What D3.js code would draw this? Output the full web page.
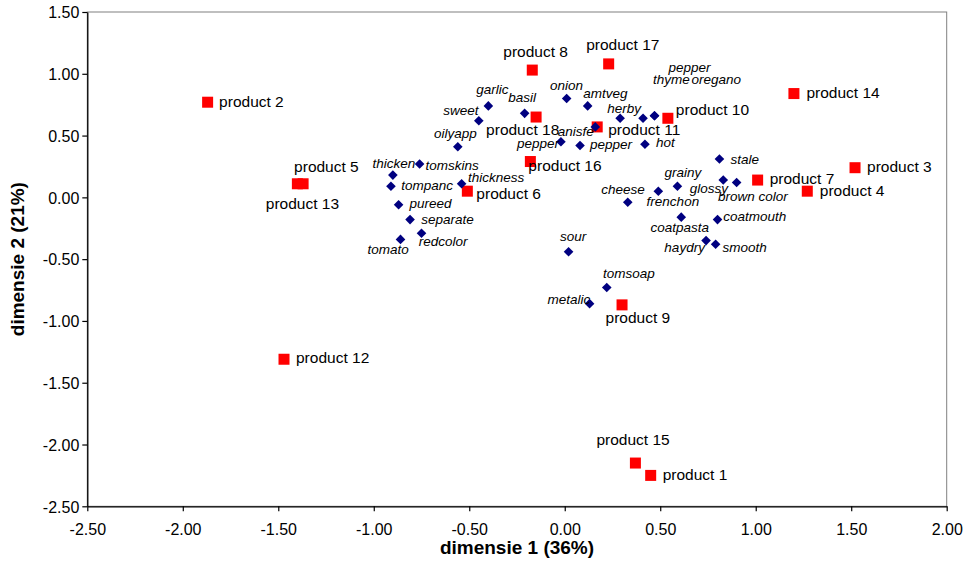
<!DOCTYPE html>
<html>
<head>
<meta charset="utf-8">
<script src="https://cdn.jsdelivr.net/npm/d3@7"></script>
<style>
  html, body { margin: 0; padding: 0; background: #fff; }
  svg { display: block; font-family: "Liberation Sans", Arial, sans-serif; }
</style>
</head>
<body>
<svg id="chart" width="966" height="563"></svg>
<script>
// ---------- data ----------
const productNames = ["product 1","product 2","product 3","product 4","product 5","product 6",
  "product 7","product 8","product 9","product 10","product 11","product 12","product 13",
  "product 14","product 15","product 16","product 17","product 18"];
const productDim1 = [0.45,-1.87,1.52,1.27,-1.37,-0.51,1.01,-0.17,0.30,0.54,0.17,-1.47,-1.40,1.20,0.37,-0.18,0.23,-0.15];
const productDim2 = [-2.25,0.77,0.24,0.05,0.11,0.05,0.14,1.03,-0.87,0.64,0.57,-1.31,0.11,0.84,-2.15,0.29,1.08,0.65];

const attrNames = ["garlic","basil","sweet","oilyapp","pepper","onion","amtveg","herby","thyme","oregano",
  "pepper","anisfe","pepper","hot","stale","grainy","cheese","frenchon","glossy","brown color",
  "coatpasta","coatmouth","haydry","smooth","sour","tomsoap","metalic","thicken","tomskins",
  "tompanc","thickness","pureed","separate","redcolor","tomato"];
const attrDim1 = [-0.40,-0.21,-0.45,-0.56,-0.02,0.01,0.12,0.29,0.41,0.47,
  0.47,0.16,0.08,0.42,0.81,0.59,0.33,0.49,0.83,0.90,
  0.61,0.80,0.74,0.79,0.02,0.22,0.13,-0.90,-0.76,
  -0.91,-0.54,-0.87,-0.81,-0.75,-0.86];
const attrDim2 = [0.74,0.68,0.62,0.41,0.45,0.80,0.74,0.64,0.64,0.66,
  0.66,0.57,0.42,0.43,0.31,0.09,-0.04,0.05,0.14,0.12,
  -0.16,-0.18,-0.35,-0.38,-0.44,-0.73,-0.86,0.18,0.27,
  0.09,0.11,-0.06,-0.18,-0.29,-0.34];

const xTicks = [-2.5,-2,-1.5,-1,-0.5,0,0.5,1,1.5,2];
const xTickLabels = ["-2.50","-2.00","-1.50","-1.00","-0.50","0.00","0.50","1.00","1.50","2.00"];
const yTicks = [-2.5,-2,-1.5,-1,-0.5,0,0.5,1,1.5];
const yTickLabels = ["-2.50","-2.00","-1.50","-1.00","-0.50","0.00","0.50","1.00","1.50"];
const xTitle = "dimensie 1 (36%)";
const yTitle = "dimensie 2 (21%)";

// ---------- label placement (layout only) ----------
const productLabelOffsets = [
  [12,5],[11.5,4.5],[12,4.5],[12.5,4.5],[-9,-12],[9,8],[12,4],[-29,-13],[-16.5,18],
  [8,-3],[11,8.5],[12,4],[-31.6,25],[12.5,4],[-39,-18.5],[-2,9],[-22.5,-14],[-50,18]
];
const attrLabelOffsets = [
  [-12,-12],[-16.5,-11],[-35.5,-6],[-23.7,-8.7],[-44,6.5],[-16.6,-9],[-4.4,-7.7],[-13,-5],[10,-34.3],[37,-32],
  [14,-43.6],[-37.5,9],[10,3.5],[11,3],[11,4.5],[-13,-9],[-26.5,-8.4],[-11.7,15],[-33.4,12.8],[-18.7,18.3],
  [-30.7,15],[5.7,1],[-41.7,11],[7,7.7],[-8.6,-10.3],[-3.7,-10],[-42,0.6],[-20.3,-7],[6,6],
  [10.3,4.2],[6.3,-1.6],[11,3.7],[11.2,4],[-2.7,12.7],[-33,14.6]
];

// ---------- chart ----------
const svg = d3.select("#chart");
const x = d3.scaleLinear().domain([-2.5, 2]).range([87.3, 946.7]);
const y = d3.scaleLinear().domain([-2.5, 1.5]).range([506.3, 12]);

// plot frame (gray top/right)
svg.append("rect")
  .attr("x", x(-2.5)).attr("y", y(1.5))
  .attr("width", x(2) - x(-2.5)).attr("height", y(-2.5) - y(1.5))
  .attr("fill", "none").attr("stroke", "#808080").attr("stroke-width", 1);

const xAxis = svg.append("g")
  .attr("transform", `translate(0,${y(-2.5)})`)
  .call(d3.axisBottom(x).tickValues(xTicks).tickFormat((d, i) => xTickLabels[i]).tickSize(5).tickSizeOuter(0));
const yAxis = svg.append("g")
  .attr("transform", `translate(${x(-2.5)},0)`)
  .call(d3.axisLeft(y).tickValues(yTicks).tickFormat((d, i) => yTickLabels[i]).tickSize(5).tickSizeOuter(0));

[xAxis, yAxis].forEach(g => {
  g.select(".domain").attr("stroke", "#000").attr("stroke-width", 1.3);
  g.selectAll(".tick line").attr("stroke", "#000").attr("stroke-width", 1.2);
  g.selectAll(".tick text").attr("fill", "#000")
    .style("font-family", '"Liberation Sans", Arial, sans-serif').style("font-size", "16px");
});
xAxis.selectAll(".tick text").attr("dy", null).attr("y", 28.5);
yAxis.selectAll(".tick text").attr("x", -8).attr("dy", "0.36em");

// axis titles
svg.append("text")
  .attr("x", (x(-2.5) + x(2)) / 2).attr("y", 554)
  .attr("text-anchor", "middle").attr("font-weight", "bold").attr("font-size", "19px")
  .text(xTitle);
svg.append("text")
  .attr("transform", `translate(23.5,${(y(1.5) + y(-2.5)) / 2}) rotate(-90)`)
  .attr("text-anchor", "middle").attr("font-weight", "bold").attr("font-size", "19px")
  .text(yTitle);

// products (red squares)
const products = productNames.map((n, i) => ({ name: n, d1: productDim1[i], d2: productDim2[i], off: productLabelOffsets[i] }));
const attrs = attrNames.map((n, i) => ({ name: n, d1: attrDim1[i], d2: attrDim2[i], off: attrLabelOffsets[i] }));

const sq = 11;
svg.append("g").selectAll("rect").data(products).join("rect")
  .attr("x", d => x(d.d1) - sq / 2).attr("y", d => y(d.d2) - sq / 2)
  .attr("width", sq).attr("height", sq).attr("fill", "#FF0000");

// attributes (navy diamonds)
const dr = 4.8;
svg.append("g").selectAll("path").data(attrs).join("path")
  .attr("d", d => {
    const cx = x(d.d1), cy = y(d.d2);
    return `M${cx},${cy - dr}L${cx + dr},${cy}L${cx},${cy + dr}L${cx - dr},${cy}Z`;
  })
  .attr("fill", "#000080");

// labels
svg.append("g").selectAll("text").data(products).join("text")
  .attr("x", d => x(d.d1) + d.off[0]).attr("y", d => y(d.d2) + d.off[1])
  .attr("font-size", "15.5px").attr("fill", "#000")
  .text(d => d.name);

svg.append("g").selectAll("text").data(attrs).join("text")
  .attr("x", d => x(d.d1) + d.off[0]).attr("y", d => y(d.d2) + d.off[1])
  .attr("font-size", "13.5px").attr("font-style", "italic").attr("fill", "#000")
  .text(d => d.name);
</script>
</body>
</html>
